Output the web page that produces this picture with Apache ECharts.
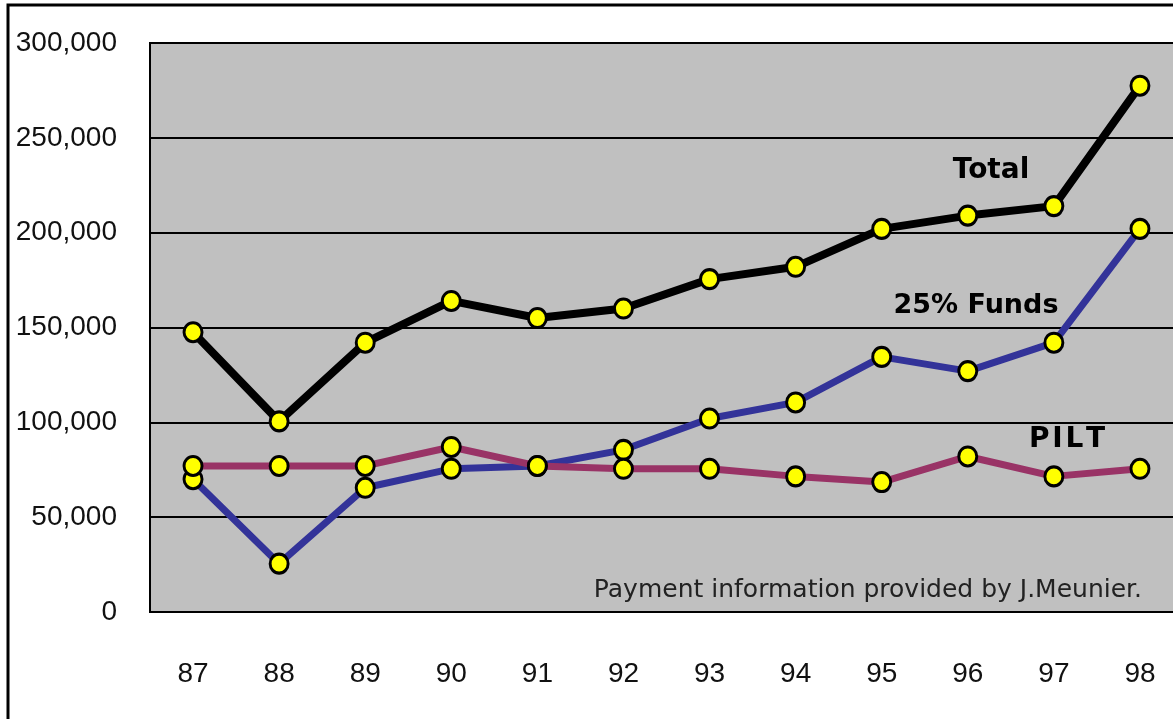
<!DOCTYPE html>
<html><head><meta charset="utf-8">
<script src="https://cdn.jsdelivr.net/npm/echarts@6/dist/echarts.min.js"></script>
<style>html,body{margin:0;padding:0;background:#fff}#c{width:1173px;height:719px}</style>
</head><body><div id="c"></div>
<script>
const years = ['87','88','89','90','91','92','93','94','95','96','97','98'];
const totalVals = [147500, 100500, 142000, 164000, 155000, 160000, 175500, 182000, 202000, 209000, 214000, 277500];
const fundsVals = [70000, 25500, 65500, 75500, 77000, 85500, 102000, 110500, 134500, 127000, 142000, 202000];
const piltVals = [77000, 77000, 77000, 87000, 77000, 75500, 75500, 71500, 68500, 82000, 71500, 75500];
const yTicks = [0, 50000, 100000, 150000, 200000, 250000, 300000];

const chart = echarts.init(document.getElementById('c'));
const fam = '"Liberation Sans",Arial,sans-serif';
function lineSeries(name, data, color, width) {
  return {
    name, type: 'line', data,
    lineStyle: { color, width },
    itemStyle: { color: '#FFFF00', borderColor: '#000', borderWidth: 3 },
    symbol: 'circle', symbolSize: [18, 19], showAllSymbol: true,
    animation: false, z: 3
  };
}
chart.setOption({
  animation: false,
  grid: { left: 150, top: 43, width: 1033, height: 569, show: true, backgroundColor: '#C0C0C0', borderColor: '#000', borderWidth: 2, containLabel: false, outerBoundsMode: 'none' },
  xAxis: {
    type: 'category', data: years, boundaryGap: true,
    axisLine: { show: false }, axisTick: { show: false },
    axisLabel: { fontFamily: fam, fontSize: 28, color: '#111', margin: 48 }
  },
  yAxis: {
    type: 'value', min: yTicks[0], max: yTicks[yTicks.length - 1], interval: 50000,
    axisLine: { show: false }, axisTick: { show: false },
    splitLine: { lineStyle: { color: '#000', width: 2 } },
    axisLabel: { fontFamily: fam, fontSize: 28, color: '#111', margin: 33,
      formatter: v => v.toLocaleString('en-US') }
  },
  series: [
    lineSeries('25% Funds', fundsVals, '#333399', 7),
    lineSeries('PILT', piltVals, '#993366', 7),
    lineSeries('Total', totalVals, '#000000', 8)
  ],
  graphic: [
    { type: 'rect', shape: { x: 8, y: 5, width: 1200, height: 760 }, style: { fill: 'none', stroke: '#000', lineWidth: 3 }, silent: true, z: 10 },
    { type: 'text', x: 991, y: 171, style: { text: 'Total', font: 'bold 28px "DejaVu Sans","Liberation Sans",sans-serif', fill: '#000', align: 'center', verticalAlign: 'middle' }, z: 5 },
    { type: 'text', x: 976, y: 306, style: { text: '25% Funds', font: 'bold 27px "DejaVu Sans","Liberation Sans",sans-serif', fill: '#000', align: 'center', verticalAlign: 'middle' }, z: 5 },
    { type: 'text', x: 1067, y: 440, style: { text: 'P\u200AI\u200AL\u200AT', font: 'bold 28px "DejaVu Sans","Liberation Sans",sans-serif', fill: '#000', align: 'center', verticalAlign: 'middle' }, z: 5 },
    { type: 'text', x: 1142, y: 590, style: { text: 'Payment information provided by J.Meunier.', font: '25px "DejaVu Sans","Liberation Sans",sans-serif', fill: '#222', align: 'right', verticalAlign: 'middle' }, z: 5 }
  ]
});
</script></body></html>
